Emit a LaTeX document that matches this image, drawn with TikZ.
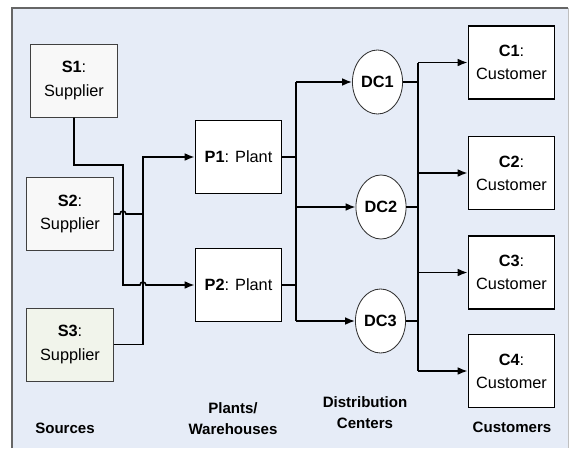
\documentclass[tikz,border=0pt]{standalone}
\usepackage{fontspec}
\setmainfont{Liberation Sans}
\usetikzlibrary{shapes.geometric,arrows.meta}
\definecolor{panelblue}{HTML}{E6ECF7}
\definecolor{srcgray}{HTML}{F8F8F8}
\definecolor{srcgreen}{HTML}{F1F4EB}
\begin{document}
\begin{tikzpicture}[x=0.025cm, y=-0.025cm, >={Latex[length=7pt,width=5.5pt]},
    supplier/.style={draw=black!75, line width=0.7pt, fill=srcgray, minimum width=2.15cm, minimum height=1.825cm, align=center, font=\fontsize{11.6}{16.5}\selectfont},
    plant/.style={draw, line width=1.3pt, fill=white, minimum width=2.15cm, minimum height=1.825cm, align=center, font=\fontsize{11.6}{16.5}\selectfont},
    dc/.style={ellipse, draw=black!80, line width=0.6pt, fill=white, minimum width=1.225cm, minimum height=1.6cm, inner sep=1pt, font=\bfseries\fontsize{11.6}{14}\selectfont},
    tier/.style={align=center, font=\bfseries\fontsize{10.7}{15}\selectfont},
    link/.style={line width=1.1pt}]
    % --- Sfondo ---
    \useasboundingbox (0,0) rectangle (569,448);
    \fill[panelblue] (12,8) rectangle (568,448);
    \draw[black!60, line width=0.8pt] (12,448) -- (12,8) -- (568,8);
    \draw[black!25, line width=0.6pt] (568,8) -- (568,448);

    % --- Nodi ---
    \node[supplier] (S1) at (74,80.5) {\textbf{S1}:\\Supplier};
    \node[supplier] (S2) at (70,214) {\textbf{S2}:\\Supplier};
    \node[supplier, fill=srcgreen] (S3) at (70,344.5) {\textbf{S3}:\\Supplier};

    \node[plant] (P1) at (238.5,157) {\textbf{P1}: Plant};
    \node[plant] (P2) at (238.5,285) {\textbf{P2}: Plant};

    \node[dc] (DC1) at (377.5,82) {DC1};
    \node[dc] (DC2) at (381,207) {DC2};
    \node[dc] (DC3) at (380.5,321) {DC3};

    \node[plant] (C1) at (511.5,62.5) {\textbf{C1}:\\Customer};
    \node[plant] (C2) at (511.5,173) {\textbf{C2}:\\Customer};
    \node[plant] (C3) at (511.5,272.5) {\textbf{C3}:\\Customer};
    \node[plant] (C4) at (511.5,371) {\textbf{C4}:\\Customer};

    % --- Etichette ---
    \node[tier] (lsrc) at (65,428) {Sources};
    \node[tier] (lplant) at (233,418.5) {Plants/\\Warehouses};
    \node[tier] (ldc) at (365,412.5) {Distribution\\Centers};
    \node[tier] (lcus) at (512,427) {Customers};

    % --- Collegamenti ---
    \coordinate (pbus) at (296,0);
    \coordinate (cbus) at (418,0);
    % fornitori -> impianti
    \draw[link,->] (S1.south) |- (123,165) -- (123,285) -- (140,285)
        arc[start angle=180, end angle=0, radius=2.1pt] -- (P2.west);
    \draw[link,->] (S2.east) -- (120,214)
        arc[start angle=180, end angle=0, radius=2.1pt] -- (143,214) |- (P1.west);
    \draw[link] (S3.east) -| (143,214);
    % impianti -> centri
    \draw[link] (DC1.west -| pbus) -- (DC3.west -| pbus);
    \draw[link] (P1.east) -- (P1.east -| pbus);
    \draw[link] (P2.east) -- (P2.east -| pbus);
    \foreach \d in {DC1,DC2,DC3}
        \draw[link,->] (\d.west -| pbus) -- (\d.west);
    % centri -> clienti
    \draw[link] (C1.west -| cbus) -- (C4.west -| cbus);
    \foreach \d in {DC1,DC2,DC3}
        \draw[link] (\d.east) -- (\d.east -| cbus);
    \foreach \c in {C1,C2,C3,C4}
        \draw[link,->] (\c.west -| cbus) -- (\c.west);
\end{tikzpicture}
\end{document}
